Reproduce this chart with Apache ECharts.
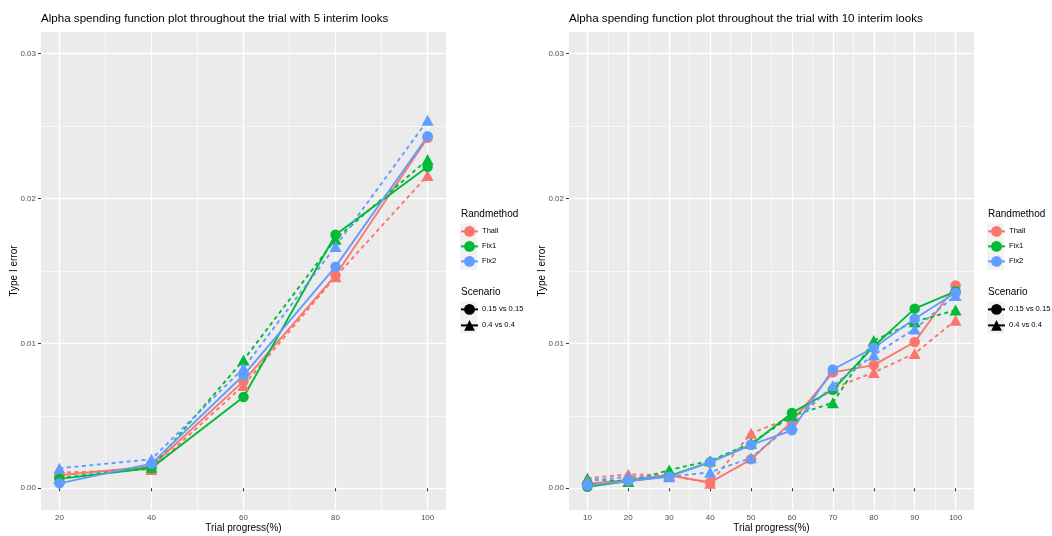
<!DOCTYPE html>
<html>
<head>
<meta charset="utf-8">
<script src="https://cdn.jsdelivr.net/npm/echarts@6/dist/echarts.min.js"></script>
<style>
  html, body { margin: 0; padding: 0; background: #ffffff; }
  #chart { width: 1052px; height: 536px; }
</style>
</head>
<body>
<div id="chart"></div>
<script>
// ---- data ----------------------------------------------------------------
const methods = ['Thall', 'Fix1', 'Fix2'];
const scenarios = ['0.15 vs 0.15', '0.4 vs 0.4'];

const progress5 = [20, 40, 60, 80, 100];
const progress10 = [10, 20, 30, 40, 50, 60, 70, 80, 90, 100];

const yTicks = [0, 0.01, 0.02, 0.03];
const yMinor = [0.005, 0.015, 0.025];
const xTicks5 = [20, 40, 60, 80, 100];
const xMinor5 = [30, 50, 70, 90];
const xTicks10 = [10, 20, 30, 40, 50, 60, 70, 80, 90, 100];
const xMinor10 = [15, 25, 35, 45, 55, 65, 75, 85, 95];

// 5 interim looks: cumulative type I error per look
const thall5_s015 = [0.0009, 0.0015, 0.0074, 0.0147, 0.0242];
const fix1_5_s015 = [0.00065, 0.0014, 0.0063, 0.0175, 0.0222];
const fix2_5_s015 = [0.00034, 0.0017, 0.0078, 0.0153, 0.0243];
const thall5_s04  = [0.00108, 0.0013, 0.0071, 0.0146, 0.0216];
const fix1_5_s04  = [0.0007, 0.00145, 0.00885, 0.0172, 0.0227];
const fix2_5_s04  = [0.00138, 0.0020, 0.0083, 0.0167, 0.0254];

// 10 interim looks
const thall10_s015 = [0.0003, 0.0006, 0.0009, 0.0004, 0.0020, 0.0046, 0.0080, 0.0085, 0.0101, 0.0140];
const fix1_10_s015 = [0.0001, 0.0005, 0.00085, 0.0018, 0.0030, 0.0052, 0.0068, 0.0098, 0.0124, 0.0136];
const fix2_10_s015 = [0.0002, 0.0005, 0.0008, 0.0018, 0.0030, 0.0040, 0.0082, 0.0097, 0.0117, 0.0135];
const thall10_s04  = [0.0007, 0.00096, 0.0009, 0.00035, 0.0038, 0.0049, 0.0069, 0.0080, 0.0093, 0.0116];
const fix1_10_s04  = [0.00065, 0.00046, 0.00126, 0.0019, 0.0031, 0.0050, 0.0059, 0.0102, 0.0115, 0.0123];
const fix2_10_s04  = [0.0005, 0.0008, 0.0008, 0.0011, 0.0021, 0.0044, 0.0071, 0.0092, 0.0110, 0.0133];

// ---- styling --------------------------------------------------------------
const FONT = '"Liberation Sans", Arial, Helvetica, sans-serif';
const colors = { Thall: '#F8766D', Fix1: '#00BA38', Fix2: '#619CFF' };
const shapes = { '0.15 vs 0.15': 'circle', '0.4 vs 0.4': 'triangle' };
const shapeSize = { circle: 10.5, triangle: [12, 11] };
const dashes = { '0.15 vs 0.15': 'solid', '0.4 vs 0.4': [4, 3.5] };

const panels = [
  { x: progress5, xMin: 16, xMax: 104, ticks: xTicks5, minor: xMinor5, left: 41,
    title: 'Alpha spending function plot throughout the trial with 5 interim looks',
    values: {
      Thall: { '0.15 vs 0.15': thall5_s015, '0.4 vs 0.4': thall5_s04 },
      Fix1:  { '0.15 vs 0.15': fix1_5_s015, '0.4 vs 0.4': fix1_5_s04 },
      Fix2:  { '0.15 vs 0.15': fix2_5_s015, '0.4 vs 0.4': fix2_5_s04 }
    }, legendLeft: 460 },
  { x: progress10, xMin: 5.5, xMax: 104.5, ticks: xTicks10, minor: xMinor10, left: 569,
    title: 'Alpha spending function plot throughout the trial with 10 interim looks',
    values: {
      Thall: { '0.15 vs 0.15': thall10_s015, '0.4 vs 0.4': thall10_s04 },
      Fix1:  { '0.15 vs 0.15': fix1_10_s015, '0.4 vs 0.4': fix1_10_s04 },
      Fix2:  { '0.15 vs 0.15': fix2_10_s015, '0.4 vs 0.4': fix2_10_s04 }
    }, legendLeft: 987 }
];

const GRID_TOP = 32, GRID_H = 478, GRID_W = 405;
const Y_MIN = -0.0015, Y_MAX = 0.0315;

const grids = [], xAxes = [], yAxes = [], series = [], titles = [], legends = [], graphics = [];

panels.forEach((p, i) => {
  grids.push({ left: p.left, top: GRID_TOP, width: GRID_W, height: GRID_H,
    show: true, backgroundColor: '#EBEBEB', borderWidth: 0,
    containLabel: false, outerBoundsMode: 'none' });

  // minor gridlines (drawn first, beneath the major ones)
  xAxes.push({ gridIndex: i, type: 'value', min: p.xMin, max: p.xMax, position: 'bottom',
    axisLine: { show: false }, axisLabel: { show: false },
    axisTick: { show: true, length: 0, customValues: p.minor, lineStyle: { opacity: 0 } },
    splitLine: { show: true, lineStyle: { color: '#FFFFFF', width: 0.6 } }, z: 0 });
  yAxes.push({ gridIndex: i, type: 'value', min: Y_MIN, max: Y_MAX, position: 'left',
    axisLine: { show: false }, axisLabel: { show: false },
    axisTick: { show: true, length: 0, customValues: yMinor, lineStyle: { opacity: 0 } },
    splitLine: { show: true, lineStyle: { color: '#FFFFFF', width: 0.6 } }, z: 0 });

  // main axes
  xAxes.push({ gridIndex: i, type: 'value', min: p.xMin, max: p.xMax, position: 'bottom',
    name: 'Trial progress(%)', nameLocation: 'middle', nameGap: 13, nameMoveOverlap: false,
    nameTextStyle: { fontFamily: FONT, fontSize: 10, color: '#000000' },
    axisLine: { show: false },
    axisTick: { show: true, length: 3, customValues: p.ticks, lineStyle: { color: '#333333', width: 1 } },
    axisLabel: { customValues: p.ticks, margin: 4, fontFamily: FONT, fontSize: 8, color: '#4D4D4D' },
    splitLine: { show: true, lineStyle: { color: '#FFFFFF', width: 1.3 } } });
  yAxes.push({ gridIndex: i, type: 'value', min: Y_MIN, max: Y_MAX, position: 'left',
    name: 'Type I error', nameLocation: 'middle', nameGap: 21.5, nameRotate: 90, nameMoveOverlap: false,
    nameTextStyle: { fontFamily: FONT, fontSize: 10, color: '#000000' },
    axisLine: { show: false },
    axisTick: { show: true, length: 3, customValues: yTicks, lineStyle: { color: '#333333', width: 1 } },
    axisLabel: { customValues: yTicks, margin: 5, fontFamily: FONT, fontSize: 8, color: '#4D4D4D',
      formatter: v => v.toFixed(2) },
    splitLine: { show: true, lineStyle: { color: '#FFFFFF', width: 1.3 } } });

  const xi = i * 2 + 1, yi = i * 2 + 1;

  // connecting lines first, then the points on top
  methods.forEach(m => scenarios.forEach(s => {
    series.push({ type: 'line', name: m, xAxisIndex: xi, yAxisIndex: yi,
      data: p.x.map((x, k) => [x, p.values[m][s][k]]),
      symbol: shapes[s], showSymbol: false, silent: true, z: 2,
      itemStyle: { color: colors[m] },
      lineStyle: { color: colors[m], width: 1.9, type: dashes[s] } });
  }));
  methods.forEach(m => scenarios.forEach(s => {
    series.push({ type: 'scatter', name: m, xAxisIndex: xi, yAxisIndex: yi,
      data: p.x.map((x, k) => [x, p.values[m][s][k]]),
      symbol: shapes[s], symbolSize: shapeSize[shapes[s]], silent: true, z: 3,
      itemStyle: { color: colors[m], opacity: 1 } });
  }));

  titles.push({ text: p.title, left: p.left, top: 13, padding: 0,
    textStyle: { fontFamily: FONT, fontSize: 11.6, fontWeight: 'normal', color: '#000000' } });
  titles.push({ text: 'Randmethod', left: p.legendLeft + 1, top: 209, padding: 0,
    textStyle: { fontFamily: FONT, fontSize: 10, fontWeight: 'normal', color: '#000000' } });
  titles.push({ text: 'Scenario', left: p.legendLeft + 1, top: 287.5, padding: 0,
    textStyle: { fontFamily: FONT, fontSize: 10, fontWeight: 'normal', color: '#000000' } });

  const legendCommon = { orient: 'vertical', left: p.legendLeft, padding: 0, itemWidth: 17,
    itemHeight: 13.5, selectedMode: false,
    textStyle: { fontFamily: FONT, fontSize: 7.6, color: '#000000', padding: [0, 0, 0, -1] } };
  legends.push(Object.assign({}, legendCommon, { data: methods, top: 226, itemGap: 4.2 }));
  legends.push(Object.assign({}, legendCommon, { data: scenarios, top: 304, itemGap: 5.2 }));

  // light key backgrounds behind the legend glyphs
  graphics.push({ type: 'rect', z: -1, silent: true,
    shape: { x: p.legendLeft, y: 223.5, width: 17, height: 46.5 }, style: { fill: '#F2F2F2' } });
  graphics.push({ type: 'rect', z: -1, silent: true,
    shape: { x: p.legendLeft, y: 301.5, width: 17, height: 32 }, style: { fill: '#F2F2F2' } });
});

// shape key entries for the Scenario legend
scenarios.forEach(s => {
  series.push({ type: 'line', name: s, xAxisIndex: 1, yAxisIndex: 1, data: [],
    symbol: shapes[s], symbolSize: 10, silent: true,
    itemStyle: { color: '#000000' }, lineStyle: { color: '#000000', width: 1.9 } });
});

const chart = echarts.init(document.getElementById('chart'), null, { renderer: 'canvas' });
chart.setOption({
  animation: false,
  backgroundColor: '#FFFFFF',
  title: titles,
  legend: legends,
  grid: grids,
  xAxis: xAxes,
  yAxis: yAxes,
  graphic: graphics,
  series: series
});
</script>
</body>
</html>
